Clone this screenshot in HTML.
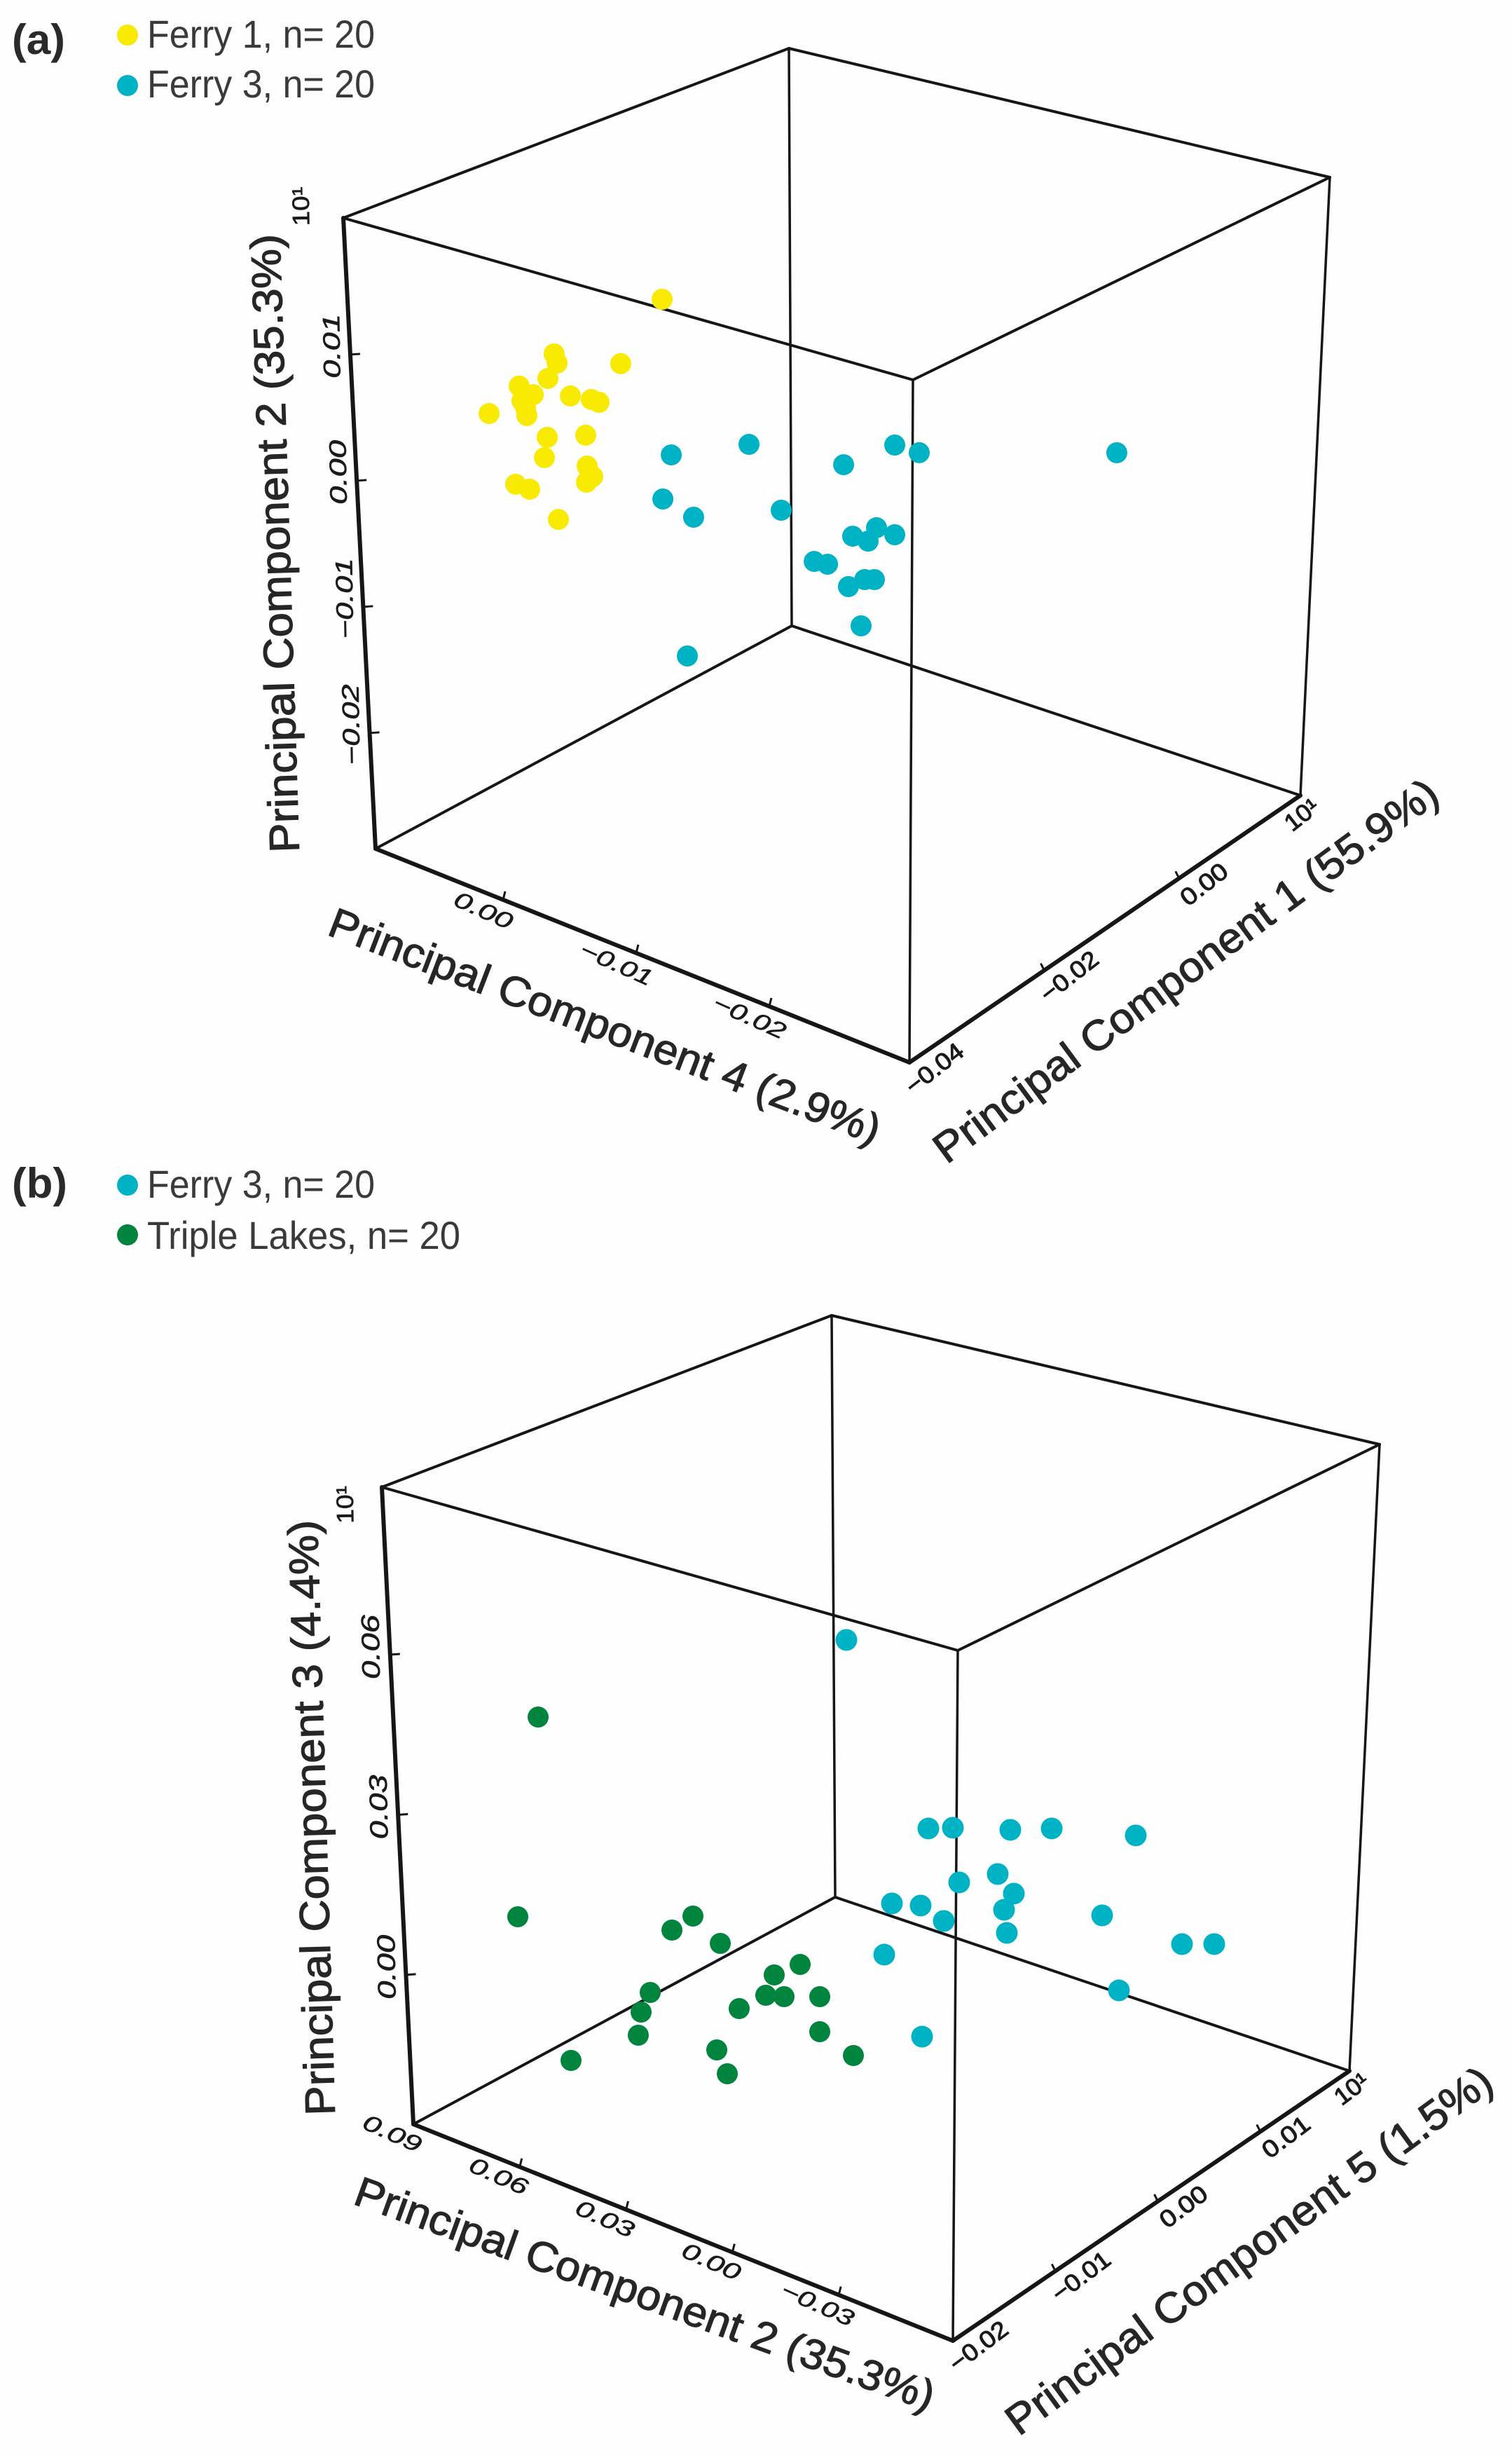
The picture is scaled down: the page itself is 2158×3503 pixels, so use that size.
<!DOCTYPE html>
<html lang="en">
<head>
<meta charset="utf-8">
<title>Principal component 3D scatter plots</title>
<style>
  html, body { margin: 0; padding: 0; background: #fefefe; }
  body { width: 2158px; height: 3503px; overflow: hidden; }
  svg { display: block; font-family: "Liberation Sans", sans-serif; }
  .legend-text { font-size: 56px; fill: #3a3a3a; }
  .panel-tag { font-size: 60px; font-weight: bold; fill: #2a2a2a; }
  .axis-title { font-size: 60px; fill: #262626; stroke: #262626; stroke-width: 1.2px; }
</style>
</head>
<body>
<svg id="chart" width="2158" height="3503" viewBox="0 0 2158 3503">
  <rect x="0" y="0" width="2158" height="3503" fill="#fefefe"/>

  <g id="panel-a-layer"></g>
  <g id="panel-b-layer"></g>

  <text class="panel-tag" x="17" y="77" textLength="76" lengthAdjust="spacingAndGlyphs">(a)</text>
  <circle cx="182" cy="50" r="15" fill="#f8ea00"/>
  <text class="legend-text" x="210" y="68" textLength="325" lengthAdjust="spacingAndGlyphs">Ferry 1, n= 20</text>
  <circle cx="182" cy="122" r="15" fill="#00b3c4"/>
  <text class="legend-text" x="210" y="139" textLength="325" lengthAdjust="spacingAndGlyphs">Ferry 3, n= 20</text>

  <text class="axis-title" transform="translate(427 1216) rotate(-91.8)" textLength="883" lengthAdjust="spacingAndGlyphs">Principal Component 2 (35.3%)</text>
  <text class="axis-title" transform="translate(465 1333) rotate(21)" textLength="838" lengthAdjust="spacingAndGlyphs">Principal Component 4 (2.9%)</text>
  <text class="axis-title" transform="translate(1351 1662) rotate(-36.4)" textLength="878" lengthAdjust="spacingAndGlyphs">Principal Component 1 (55.9%)</text>

  <text class="panel-tag" x="17" y="1709" textLength="79" lengthAdjust="spacingAndGlyphs">(b)</text>
  <circle cx="182" cy="1691" r="15" fill="#00b3c4"/>
  <text class="legend-text" x="210" y="1709" textLength="325" lengthAdjust="spacingAndGlyphs">Ferry 3, n= 20</text>
  <circle cx="182" cy="1762" r="15" fill="#00843e"/>
  <text class="legend-text" x="210" y="1782" textLength="447" lengthAdjust="spacingAndGlyphs">Triple Lakes, n= 20</text>

  <text class="axis-title" transform="translate(478 3018) rotate(-91.7)" textLength="850" lengthAdjust="spacingAndGlyphs">Principal Component 3 (4.4%)</text>
  <text class="axis-title" transform="translate(502 3144) rotate(19.8)" textLength="875" lengthAdjust="spacingAndGlyphs">Principal Component 2 (35.3%)</text>
  <text class="axis-title" transform="translate(1454 3477) rotate(-36.2)" textLength="844" lengthAdjust="spacingAndGlyphs">Principal Component 5 (1.5%)</text>
</svg>

<script>
// ---------- Panel (a) values ----------
const ferry1PC4 = [-0.00700, 0.00111, 0.00089, 0.00158, -0.00389, 0.00374, 0.00268, 0.00353, 0.00326, 0.00316, 0.00600, -0.00011, -0.00168, -0.00226, -0.00126, 0.00163, 0.00184, -0.00137, -0.00179, -0.00132, 0.00400, 0.00295, 0.00079];
const ferry1PC2 = [0.01768, 0.00992, 0.00929, 0.00778, 0.01126, 0.00626, 0.00603, 0.00518, 0.00473, 0.00417, 0.00313, 0.00710, 0.00749, 0.00751, 0.00448, 0.00309, 0.00139, 0.00208, 0.00142, 0.00078, -0.00163, -0.00158, -0.00306];
const ferry1PC1 = [-0.03, -0.03, -0.03, -0.03, -0.03, -0.03, -0.03, -0.03, -0.03, -0.03, -0.03, -0.03, -0.03, -0.03, -0.03, -0.03, -0.03, -0.03, -0.03, -0.03, -0.03, -0.03, -0.03];

const ferry3PC4 = [0.00242, 0.00305, -0.00342, 0.00074, -0.01437, -0.01621, -0.03105, -0.01053, -0.00584, -0.01121, -0.01300, -0.01237, -0.01437, -0.00832, -0.00932, -0.01089, -0.01211, -0.01284, -0.01184, 0.00121];
const ferry3PC2 = [-0.00597, -0.00973, -0.00267, -0.01020, 0.00190, 0.00207, 0.00833, -0.00128, -0.00687, -0.00666, -0.00523, -0.00656, -0.00521, -0.00988, -0.00968, -0.01079, -0.00972, -0.00941, -0.01350, -0.02140];
const ferry3PC1 = [-0.01, -0.01, -0.01, -0.01, -0.01, -0.01, -0.01, -0.01, -0.01, -0.01, -0.01, -0.01, -0.01, -0.01, -0.01, -0.01, -0.01, -0.01, -0.01, -0.01];

// ---------- Panel (b) values ----------
const ferry3bPC2 = [0.05196, 0.02902, 0.02216, 0.00608, -0.00549, -0.02902, 0.00961, 0.02039, 0.00510, 0.03922, 0.03118, 0.02471, 0.00784, -0.01961, 0.00706, -0.04196, -0.05098, 0.04137, -0.02431, 0.03078];
const ferry3bPC3 = [0.03329, 0.00405, 0.00603, 0.00995, 0.01332, 0.01832, 0.00071, -0.00376, -0.00176, -0.01276, -0.01100, -0.01216, -0.00553, 0.00079, -0.00966, 0.00139, 0.00382, -0.02295, -0.01203, -0.03550];
const ferry3bPC5 = [0.01, 0.01, 0.01, 0.01, 0.01, 0.01, 0.01, 0.01, 0.01, 0.01, 0.01, 0.01, 0.01, 0.01, 0.01, 0.01, 0.01, 0.01, 0.01, 0.01];

const tripleLakesPC2 = [0.08745, 0.04431, 0.03843, 0.03078, 0.00843, 0.01569, 0.05039, 0.01804, 0.01294, 0.00294, 0.02549, 0.05294, 0.05373, 0.00294, 0.07255, -0.00647, 0.03176, 0.02882, 0.08176];
const tripleLakesPC3 = [-0.00189, 0.00718, 0.01139, 0.00832, 0.01037, 0.00645, -0.00616, 0.00200, 0.00311, 0.00579, -0.00250, -0.01053, -0.01508, -0.00079, -0.02487, -0.00274, -0.01195, -0.01563, 0.03713];
const tripleLakesPC5 = [-0.01, -0.01, -0.01, -0.01, -0.01, -0.01, -0.01, -0.01, -0.01, -0.01, -0.01, -0.01, -0.01, -0.01, -0.01, -0.01, -0.01, -0.01, -0.01];

// ---------- Tick values and labels ----------
const panelAPC2Ticks = [0.0208, 0.01, 0, -0.01, -0.02];
const panelAPC2Labels = ['10¹', '0.01', '0.00', '−0.01', '−0.02'];
const panelAPC4Ticks = [0, -0.01, -0.02];
const panelAPC4Labels = ['0.00', '−0.01', '−0.02'];
const panelAPC1Ticks = [-0.04, -0.02, 0, 0.018];
const panelAPC1Labels = ['−0.04', '−0.02', '0.00', '10¹'];

const panelBPC3Ticks = [0.0914, 0.06, 0.03, 0];
const panelBPC3Labels = ['10¹', '0.06', '0.03', '0.00'];
const panelBPC2Ticks = [0.09, 0.06, 0.03, 0, -0.03];
const panelBPC2Labels = ['0.09', '0.06', '0.03', '0.00', '−0.03'];
const panelBPC5Ticks = [-0.02, -0.01, 0, 0.01, 0.0187];
const panelBPC5Labels = ['−0.02', '−0.01', '0.00', '0.01', '10¹'];

// ---------- Panel geometry ----------
const panelAFrame = {
  topLeft: [490, 311], topBack: [1126, 69], topRight: [1898, 253], topFront: [1303, 542],
  bottomLeft: [536, 1211], bottomBack: [1130, 893], bottomRight: [1856, 1135], bottomFront: [1298, 1516]
};
const panelBFrame = {
  topLeft: [545, 2122], topBack: [1187, 1877], topRight: [1969, 2061], topFront: [1367, 2355],
  bottomLeft: [590, 3031], bottomBack: [1192, 2707], bottomRight: [1926, 2955], bottomFront: [1360, 3340]
};
const panelAProjection = { origin: [1100, 494], first: [-19000, -7600], vertical: -18000, depth: [9600, -6600] };
const panelBProjection = { origin: [1329, 2799], first: [-5100, -2040], vertical: -7600, depth: [14400, -10000] };

const svgRoot = document.getElementById('chart');
const svgNamespace = svgRoot.namespaceURI;

function create(tag, parent, props) {
  const el = document.createElementNS(svgNamespace, tag);
  Object.keys(props).forEach(function (k) { el.setAttribute(k, props[k]); });
  parent.appendChild(el);
  return el;
}

function makeAxis(p0, p1, d0, d1) {
  return function (v) {
    const t = (v - d0) / (d1 - d0);
    return [p0[0] + (p1[0] - p0[0]) * t, p0[1] + (p1[1] - p0[1]) * t];
  };
}

function project(proj, first, vertical, depth) {
  return [
    proj.origin[0] + proj.first[0] * first + proj.depth[0] * depth,
    proj.origin[1] + proj.first[1] * first + proj.vertical * vertical + proj.depth[1] * depth
  ];
}

function drawFrame(layer, f, prefix) {
  const edges = [
    ['top-left-back', f.topLeft, f.topBack, 4],
    ['top-left-front', f.topLeft, f.topFront, 4],
    ['top-back-right', f.topBack, f.topRight, 4],
    ['top-front-right', f.topFront, f.topRight, 4],
    ['vertical-back', f.topBack, f.bottomBack, 3.5],
    ['vertical-front', f.topFront, f.bottomFront, 3.5],
    ['vertical-right', f.topRight, f.bottomRight, 3.5],
    ['bottom-left-back', f.bottomLeft, f.bottomBack, 4],
    ['bottom-back-right', f.bottomBack, f.bottomRight, 4],
    ['vertical-axis', f.topLeft, f.bottomLeft, 6],
    ['left-axis', f.bottomLeft, f.bottomFront, 6],
    ['right-axis', f.bottomFront, f.bottomRight, 6]
  ];
  edges.forEach(function (e) {
    const line = create('line', layer, {
      x1: e[1][0], y1: e[1][1], x2: e[2][0], y2: e[2][1],
      stroke: '#161616', 'stroke-width': e[3], 'stroke-linecap': 'round'
    });
    
    
  });
}

function drawTicks(layer, axis, values, labels, opt) {
  values.forEach(function (v, i) {
    const p = axis(v);
    const isEnd = labels[i] === '10¹';
    if (!isEnd && !opt.noTickFor.includes(v)) {
      const tick = create('line', layer, {
        x1: p[0], y1: p[1], x2: p[0] + opt.tick[0], y2: p[1] + opt.tick[1],
        stroke: '#161616', 'stroke-width': 3
      });
      
      
    }
    const off = isEnd ? opt.endOffset : opt.offset;
    const cx = p[0] + off[0];
    const cy = p[1] + off[1];
    const label = create('text', layer, {
      transform: 'translate(' + cx + ' ' + cy + ') rotate(' + opt.angle + ')',
      'text-anchor': 'middle',
      'dominant-baseline': 'central',
      'font-size': isEnd ? 34 : opt.fontSize,
      'font-style': (opt.italic && !isEnd) ? 'italic' : 'normal',
      fill: '#1a1a1a',
      stroke: '#1a1a1a',
      'stroke-width': opt.weight,
      textLength: isEnd ? opt.endLength : labels[i].length * opt.charWidth,
      lengthAdjust: 'spacingAndGlyphs'
    });
    label.textContent = labels[i];
    
    
  });
}

function drawSeries(layer, proj, firstVals, verticalVals, depthVals, color, radius, name) {
  firstVals.forEach(function (v, i) {
    const p = project(proj, v, verticalVals[i], depthVals[i]);
    const dot = create('circle', layer, { cx: p[0], cy: p[1], r: radius, fill: color });
    
    
  });
}

// ---------- Panel (a) ----------
const layerA = document.getElementById('panel-a-layer');
drawFrame(layerA, panelAFrame, 'panel-a');
const panelAPC2Axis = makeAxis(panelAFrame.bottomLeft, panelAFrame.topLeft, -0.02917, 0.02083);
const panelAPC4Axis = makeAxis(panelAFrame.bottomLeft, panelAFrame.bottomFront, 0.00958, -0.03053);
const panelAPC1Axis = makeAxis(panelAFrame.bottomFront, panelAFrame.bottomRight, -0.04, 0.018);
drawTicks(layerA, panelAPC2Axis, panelAPC2Ticks, panelAPC2Labels, {
  name: 'panel-a-pc2', tick: [14, -1], offset: [-26, -12], endOffset: [-60, -17], angle: -91,
  fontSize: 34, italic: true, weight: 0.6, charWidth: 23, endLength: 56, noTickFor: []
});
drawTicks(layerA, panelAPC4Axis, panelAPC4Ticks, panelAPC4Labels, {
  name: 'panel-a-pc4', tick: [3, -12], offset: [-28, 15], endOffset: [0, 0], angle: 24,
  fontSize: 32, italic: true, weight: 0.6, charWidth: 22, endLength: 50, noTickFor: []
});
drawTicks(layerA, panelAPC1Axis, panelAPC1Ticks, panelAPC1Labels, {
  name: 'panel-a-pc1', tick: [-5, -10], offset: [36, 9], endOffset: [2, 28], angle: -38,
  fontSize: 34, italic: false, weight: 1.1, charWidth: 19, endLength: 52, noTickFor: [-0.04]
});
drawSeries(layerA, panelAProjection, ferry1PC4, ferry1PC2, ferry1PC1, '#f8ea00', 15, 'ferry-1');
drawSeries(layerA, panelAProjection, ferry3PC4, ferry3PC2, ferry3PC1, '#00b3c4', 15, 'ferry-3');

// ---------- Panel (b) ----------
const layerB = document.getElementById('panel-b-layer');
drawFrame(layerB, panelBFrame, 'panel-b');
const panelBPC3Axis = makeAxis(panelBFrame.bottomLeft, panelBFrame.topLeft, -0.028, 0.0914);
const panelBPC2Axis = makeAxis(panelBFrame.bottomLeft, panelBFrame.bottomFront, 0.09, -0.0622);
const panelBPC5Axis = makeAxis(panelBFrame.bottomFront, panelBFrame.bottomRight, -0.02, 0.0187);
drawTicks(layerB, panelBPC3Axis, panelBPC3Ticks, panelBPC3Labels, {
  name: 'panel-b-pc3', tick: [14, -1], offset: [-28, -11], endOffset: [-52, 25], angle: -91,
  fontSize: 36, italic: true, weight: 0.6, charWidth: 23, endLength: 54, noTickFor: []
});
drawTicks(layerB, panelBPC2Axis, panelBPC2Ticks, panelBPC2Labels, {
  name: 'panel-b-pc2', tick: [3, -12], offset: [-30, 13], endOffset: [0, 0], angle: 24,
  fontSize: 32, italic: true, weight: 0.6, charWidth: 22, endLength: 50, noTickFor: [0.09]
});
drawTicks(layerB, panelBPC5Axis, panelBPC5Ticks, panelBPC5Labels, {
  name: 'panel-b-pc5', tick: [-5, -10], offset: [37, 8], endOffset: [3, 26], angle: -37,
  fontSize: 34, italic: false, weight: 1.1, charWidth: 19, endLength: 52, noTickFor: [-0.02]
});
drawSeries(layerB, panelBProjection, ferry3bPC2, ferry3bPC3, ferry3bPC5, '#00b3c4', 15.5, 'ferry-3');
drawSeries(layerB, panelBProjection, tripleLakesPC2, tripleLakesPC3, tripleLakesPC5, '#00843e', 15, 'triple-lakes');
</script>
</body>
</html>
